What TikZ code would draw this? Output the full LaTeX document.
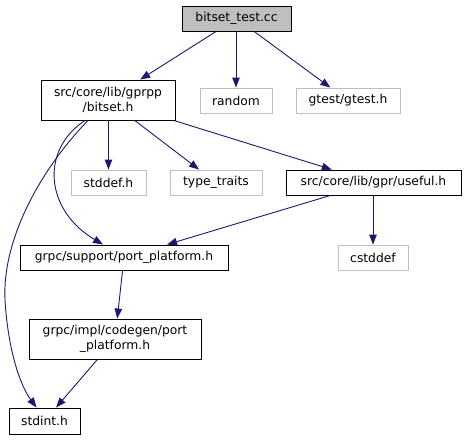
\documentclass[tikz,border=0pt]{standalone}
\usepackage{fontspec}
\setmainfont{DejaVu Sans}
\usetikzlibrary{arrows.meta,calc}
\definecolor{edgec}{HTML}{191970}
\definecolor{greyb}{HTML}{BFBFBF}
\begin{document}
\begin{tikzpicture}[x=1pt,y=-1pt,
  every node/.style={font=\fontsize{12.3}{15}\selectfont, inner sep=0pt, align=center},
  box/.style={draw=black, line width=0.9pt, fill=white},
  extbox/.style={draw=greyb, line width=0.9pt, fill=white},
  rootbox/.style={draw=black, line width=0.9pt, fill=greyb},
  edge/.style={draw=edgec, line width=0.9pt, -{Triangle[length=10pt,width=7.5pt]}}]
\useasboundingbox (0,0) rectangle (467,440);
\node[rootbox, minimum width=109pt, minimum height=25pt] (test) at (236.5,18.5) {bitset\_test.cc};
\node[box, minimum width=134pt, minimum height=40pt] (bitset) at (108,100) {src/core/lib/gprpp\\/bitset.h};
\node[extbox, minimum width=72pt, minimum height=25pt] (random) at (236,100.5) {random};
\node[extbox, minimum width=104pt, minimum height=25pt] (gtest) at (348,100.5) {gtest/gtest.h};
\node[extbox, minimum width=75pt, minimum height=25pt] (stddef) at (108.5,182.5) {stddef.h};
\node[extbox, minimum width=92pt, minimum height=25pt] (traits) at (216,182.5) {type\_traits};
\node[box, minimum width=175pt, minimum height=25pt] (useful) at (373.5,182.5) {src/core/lib/gpr/useful.h};
\node[box, minimum width=208pt, minimum height=25pt] (pp) at (124,257.5) {grpc/support/port\_platform.h};
\node[extbox, minimum width=70pt, minimum height=25pt] (cstddef) at (373,257.5) {cstddef};
\node[box, minimum width=172pt, minimum height=40pt] (codegen) at (115,339) {grpc/impl/codegen/port\\\_platform.h};
\node[box, minimum width=71pt, minimum height=26pt] (stdint) at (44.5,421) {stdint.h};

\draw[edge] (test) -- (bitset);
\draw[edge] (test.south -| random.north) -- (random.north);
\draw[edge] (test) -- (gtest);
\draw[edge] (bitset.south -| stddef.north) -- (stddef.north);
\draw[edge] (bitset) -- (traits);
\draw[edge] (bitset) -- (useful);
\draw[edge] ($(bitset.south)+(-23,0)$) .. controls (40,150) and (45,210) .. ($(pp.north)+(-21,0)$);
\draw[edge] ($(bitset.south)+(-20,0)$) .. controls (40,170) and (2,240) .. (5,300) .. controls (8,350) and (20,385) .. ($(stdint.north)+(-8,0)$);
\draw[edge] (useful) -- (pp);
\draw[edge] (useful.south -| cstddef.north) -- (cstddef.north);
\draw[edge] (pp) -- (codegen);
\draw[edge] (codegen) -- (stdint);
\end{tikzpicture}
\end{document}
